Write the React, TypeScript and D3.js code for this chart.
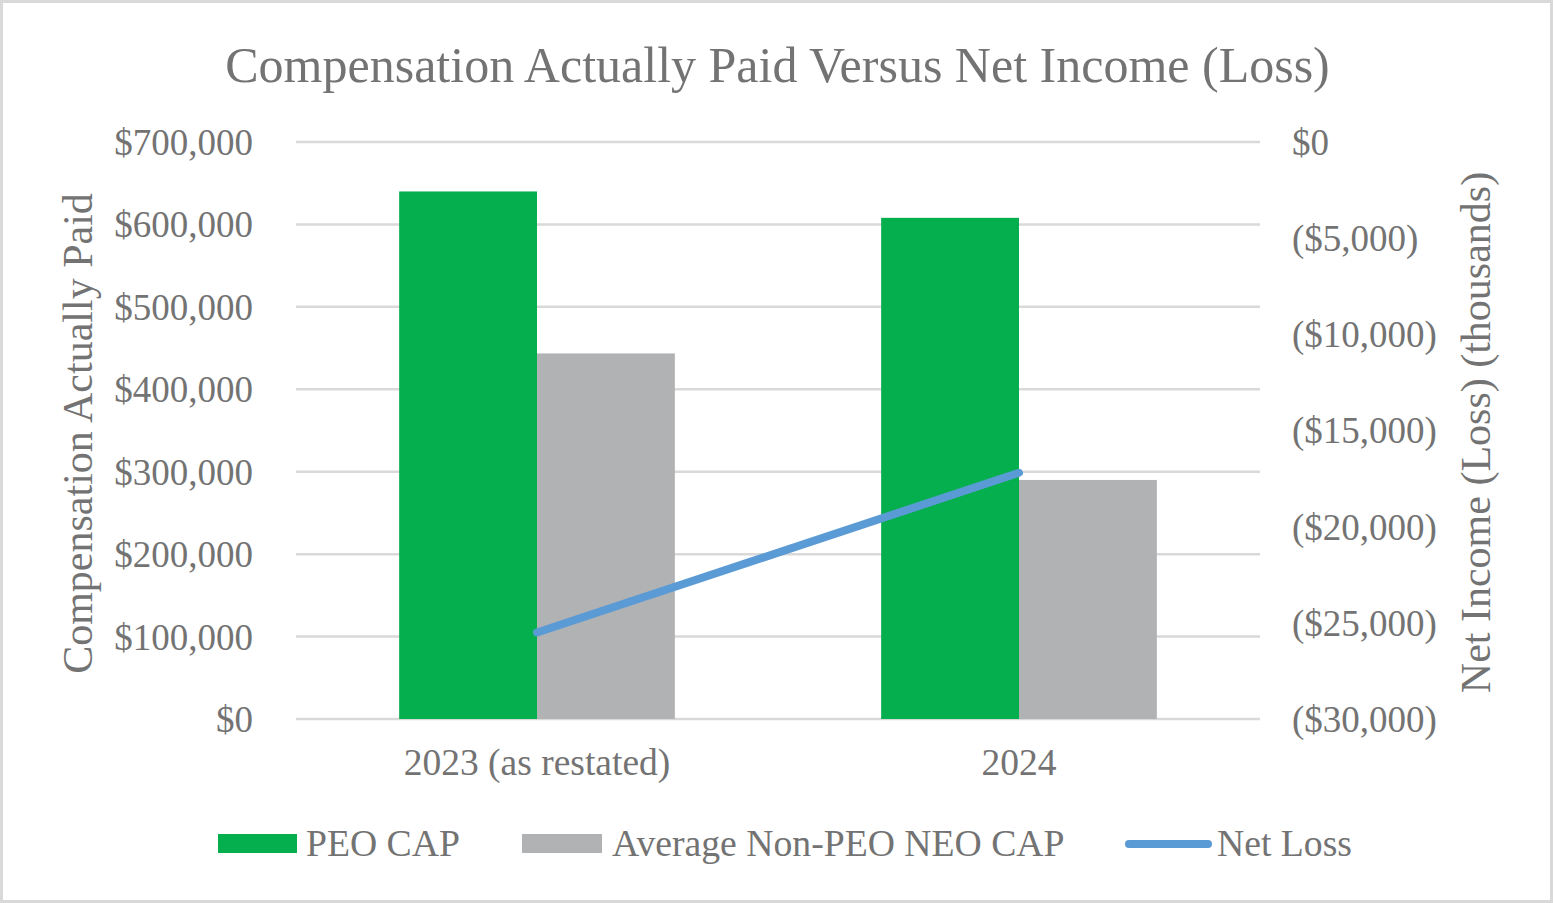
import { scaleLinear, scaleBand, line } from 'd3'

const CATEGORIES = ['2023 (as restated)', '2024']
const PEO_CAP = [640000, 608000]
const AVG_NON_PEO_CAP = [443500, 290000]
const NET_LOSS = [-25500, -17200]
const LEFT_TICKS = [0, 100000, 200000, 300000, 400000, 500000, 600000, 700000]
const RIGHT_TICKS = [0, -5000, -10000, -15000, -20000, -25000, -30000]

const W = 1553
const H = 903
const FONT = '"Liberation Serif", "Times New Roman", serif'
const TEXT = '#737373'
const GREEN = '#05AF4E'
const GRAY = '#B1B2B4'
const BLUE = '#5B9BD5'

const fmtLeft = (v: number) => '$' + v.toLocaleString('en-US')
const fmtRight = (v: number) =>
  v === 0 ? '$0' : `($${Math.abs(v).toLocaleString('en-US')})`

export default function App(): JSX.Element {
  const margin = { top: 142, right: 293, bottom: 184, left: 296 }
  const innerWidth = W - margin.left - margin.right
  const innerHeight = H - margin.top - margin.bottom

  const xScale = scaleBand().domain(CATEGORIES).range([0, innerWidth])
  const barWidth = xScale.bandwidth() * 0.286
  const groupPad = (xScale.bandwidth() - barWidth * 2) / 2

  const yLeft = scaleLinear().domain([0, 700000]).range([innerHeight, 0])
  const yRight = scaleLinear().domain([-30000, 0]).range([innerHeight, 0])

  const lineGen = line<number>()
    .x((_, i) => xScale(CATEGORIES[i])! + xScale.bandwidth() / 2)
    .y((d) => yRight(d))

  return (
    <svg
      width={W}
      height={H}
      style={{ position: 'absolute', left: 0, top: 0 }}
      fontFamily={FONT}
    >
      <rect x={1.5} y={1.5} width={W - 3} height={H - 3} fill='#fff' stroke='#D9D9D9' strokeWidth={3} />

      {/* Title */}
      <text x={W / 2 + 1} y={82} textAnchor='middle' fontSize={50} fill={TEXT}>
        Compensation Actually Paid Versus Net Income (Loss)
      </text>

      <g transform={`translate(${margin.left}, ${margin.top})`}>
        {/* Gridlines + left ticks */}
        {LEFT_TICKS.map((t, i) => (
          <g key={i} transform={`translate(0, ${yLeft(t)})`}>
            <line x2={innerWidth} stroke='#D9D9D9' strokeWidth={2.5} />
            <text x={-43} dy='0.35em' textAnchor='end' fontSize={37} fill={TEXT}>
              {fmtLeft(t)}
            </text>
          </g>
        ))}

        {/* Right ticks */}
        {RIGHT_TICKS.map((t, i) => (
          <text
            key={i}
            x={innerWidth + 32}
            y={yRight(t)}
            dy='0.35em'
            textAnchor='start'
            fontSize={37}
            fill={TEXT}
          >
            {fmtRight(t)}
          </text>
        ))}

        {/* Bars */}
        {CATEGORIES.map((c, i) => (
          <g key={c} transform={`translate(${xScale(c)! + groupPad}, 0)`}>
            <rect
              y={yLeft(PEO_CAP[i])}
              width={barWidth}
              height={innerHeight - yLeft(PEO_CAP[i])}
              fill={GREEN}
            />
            <rect
              x={barWidth}
              y={yLeft(AVG_NON_PEO_CAP[i])}
              width={barWidth}
              height={innerHeight - yLeft(AVG_NON_PEO_CAP[i])}
              fill={GRAY}
            />
          </g>
        ))}

        {/* Category labels */}
        {CATEGORIES.map((c) => (
          <text
            key={c}
            x={xScale(c)! + xScale.bandwidth() / 2}
            y={innerHeight + 56}
            textAnchor='middle'
            fontSize={37.5}
            fill={TEXT}
          >
            {c}
          </text>
        ))}

        {/* Net loss line */}
        <path
          d={lineGen(NET_LOSS) || ''}
          fill='none'
          stroke={BLUE}
          strokeWidth={8}
          strokeLinecap='round'
        />

        {/* Axis titles */}
        <text
          transform={`translate(${-204}, ${innerHeight / 2 + 3}) rotate(-90)`}
          textAnchor='middle'
          fontSize={42}
          fill={TEXT}
        >
          Compensation Actually Paid
        </text>
        <text
          transform={`translate(${innerWidth + 230}, ${innerHeight / 2 + 2}) rotate(-90)`}
          textAnchor='middle'
          fontSize={42}
          fill={TEXT}
        >
          Net Income (Loss) (thousands)
        </text>
      </g>

      {/* Legend */}
      <g fontSize={37.7} fill={TEXT}>
        <rect x={218} y={834} width={79} height={19} fill={GREEN} />
        <text x={306} y={856}>PEO CAP</text>
        <rect x={522} y={834} width={80} height={19} fill={GRAY} />
        <text x={612} y={856}>Average Non-PEO NEO CAP</text>
        <line x1={1129} x2={1208} y1={844} y2={844} stroke={BLUE} strokeWidth={8} strokeLinecap='round' />
        <text x={1217} y={856}>Net Loss</text>
      </g>
    </svg>
  )
}
